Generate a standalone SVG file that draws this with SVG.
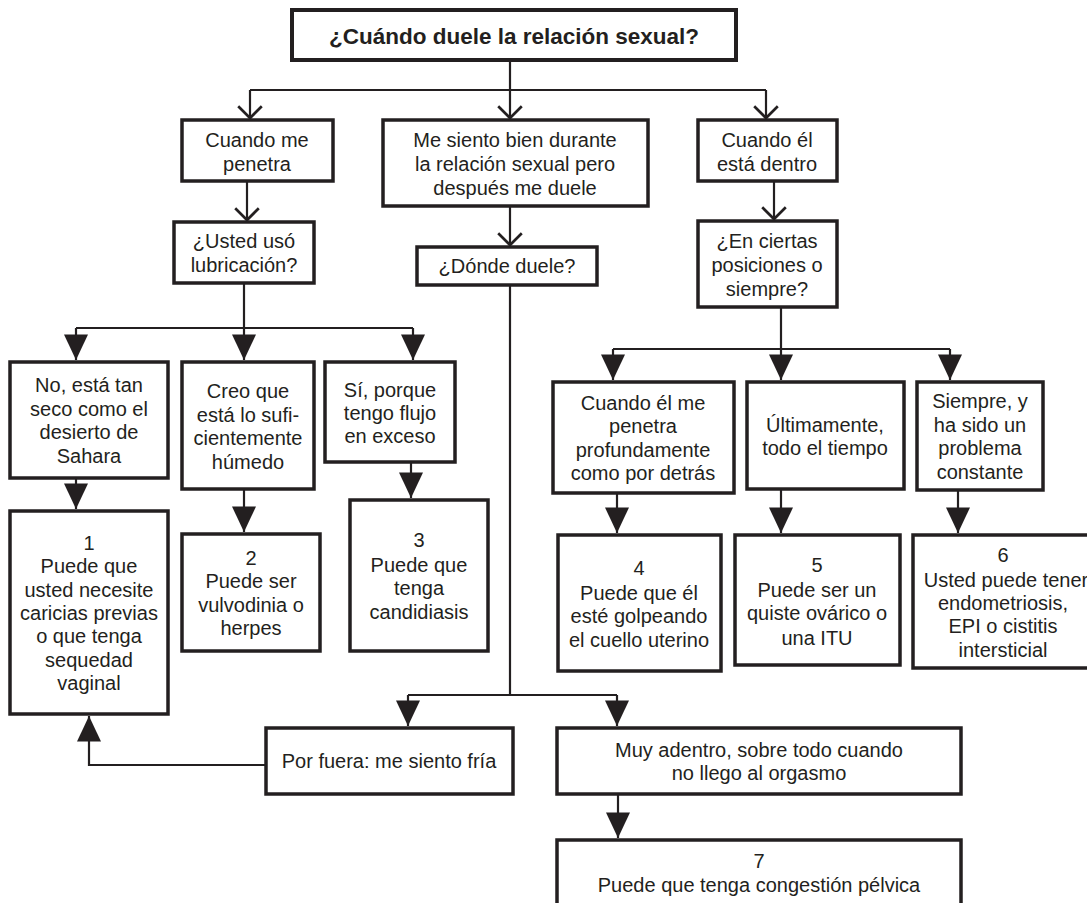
<svg xmlns="http://www.w3.org/2000/svg" width="1087" height="903" viewBox="0 0 1087 903">
<defs>
<style>
.box{fill:#fff;stroke:#231f20;stroke-width:3.5}
.tbox{fill:#fff;stroke:#231f20;stroke-width:4}
.t{font-family:"Liberation Sans",Arial,sans-serif;font-size:20px;fill:#231f20;text-anchor:middle}
.title{font-family:"Liberation Sans",Arial,sans-serif;font-size:22.5px;font-weight:bold;fill:#231f20;text-anchor:middle}
.c{fill:none;stroke:#231f20;stroke-width:2.2}
.open{marker-end:url(#openArrow)}
.fill{marker-end:url(#fillArrow)}
</style>
<marker id="openArrow" markerUnits="userSpaceOnUse" markerWidth="30" markerHeight="30" viewBox="-14 -14 16 28" refX="0" refY="0" orient="auto">
<path d="M-11,-11 L0,0 L-11,11" fill="none" stroke="#231f20" stroke-width="2.5"/>
</marker>
<marker id="fillArrow" markerUnits="userSpaceOnUse" markerWidth="30" markerHeight="30" viewBox="-18 -10 20 20" refX="0" refY="0" orient="auto">
<path d="M0,0 L-17,-8 L-17,8 Z" fill="#231f20"/>
</marker>
</defs>
<rect width="1087" height="903" fill="#fff"/>

<g id="connectors">
<path class="c" d="M510,60 V90 M250,90 H766"/>
<path class="c open" d="M250,90 V118"/>
<path class="c open" d="M510,90 V118"/>
<path class="c open" d="M766,90 V118"/>
<path class="c open" d="M247,181 V220"/>
<path class="c open" d="M510,206 V245"/>
<path class="c open" d="M774,181 V219"/>
<path class="c" d="M244,283 V328 M76,328 H413"/>
<path class="c fill" d="M76,328 V360"/>
<path class="c fill" d="M244,328 V360"/>
<path class="c fill" d="M413,328 V360"/>
<path class="c fill" d="M76,478 V509"/>
<path class="c fill" d="M244,489 V532"/>
<path class="c fill" d="M411,462 V498"/>
<path class="c" d="M510,285 V695 M408,695 H617"/>
<path class="c fill" d="M408,695 V726"/>
<path class="c fill" d="M617,695 V726"/>
<path class="c fill" d="M266,765 H89 V716"/>
<path class="c fill" d="M618,794 V838"/>
<path class="c" d="M781,307 V349 M613,349 H950"/>
<path class="c fill" d="M613,349 V380"/>
<path class="c fill" d="M781,349 V380"/>
<path class="c fill" d="M950,349 V380"/>
<path class="c fill" d="M617,493 V533"/>
<path class="c fill" d="M781,489 V533"/>
<path class="c fill" d="M958,490 V533"/>
</g>

<g id="n0">
<rect class="tbox" x="292" y="10" width="444" height="50"/>
<text class="title" x="514" y="44">¿Cuándo duele la relación sexual?</text>
</g>
<g id="n1">
<rect class="box" x="182" y="120" width="151" height="61"/>
<text class="t" x="257" y="147">Cuando me</text>
<text class="t" x="257" y="171">penetra</text>
</g>
<g id="n2">
<rect class="box" x="383" y="120" width="265" height="86"/>
<text class="t" x="515" y="147">Me siento bien durante</text>
<text class="t" x="515" y="171">la relación sexual pero</text>
<text class="t" x="515" y="195">después me duele</text>
</g>
<g id="n3">
<rect class="box" x="698" y="120" width="139" height="61"/>
<text class="t" x="767" y="147">Cuando él</text>
<text class="t" x="767" y="171">está dentro</text>
</g>
<g id="n4">
<rect class="box" x="174" y="222" width="140" height="61"/>
<text class="t" x="244" y="248">¿Usted usó</text>
<text class="t" x="244" y="272">lubricación?</text>
</g>
<g id="n5">
<rect class="box" x="417" y="247" width="180" height="38"/>
<text class="t" x="507" y="273">¿Dónde duele?</text>
</g>
<g id="n6">
<rect class="box" x="698" y="221" width="139" height="86"/>
<text class="t" x="767" y="248">¿En ciertas</text>
<text class="t" x="767" y="272">posiciones o</text>
<text class="t" x="767" y="296">siempre?</text>
</g>
<g id="n7">
<rect class="box" x="10" y="362" width="158" height="116"/>
<text class="t" x="89" y="392">No, está tan</text>
<text class="t" x="89" y="416">seco como el</text>
<text class="t" x="89" y="439">desierto de</text>
<text class="t" x="89" y="463">Sahara</text>
</g>
<g id="n8">
<rect class="box" x="182" y="362" width="132" height="127"/>
<text class="t" x="248" y="398">Creo que</text>
<text class="t" x="248" y="422">está lo sufi-</text>
<text class="t" x="248" y="445">cientemente</text>
<text class="t" x="248" y="469">húmedo</text>
</g>
<g id="n9">
<rect class="box" x="325" y="362" width="130" height="100"/>
<text class="t" x="390" y="397">Sí, porque</text>
<text class="t" x="390" y="420">tengo flujo</text>
<text class="t" x="390" y="443">en exceso</text>
</g>
<g id="n10">
<rect class="box" x="10" y="511" width="158" height="203"/>
<text class="t" x="89" y="550">1</text>
<text class="t" x="89" y="573">Puede que</text>
<text class="t" x="89" y="597">usted necesite</text>
<text class="t" x="89" y="620">caricias previas</text>
<text class="t" x="89" y="643">o que tenga</text>
<text class="t" x="89" y="667">sequedad</text>
<text class="t" x="89" y="690">vaginal</text>
</g>
<g id="n11">
<rect class="box" x="182" y="534" width="138" height="117"/>
<text class="t" x="251" y="565">2</text>
<text class="t" x="251" y="588">Puede ser</text>
<text class="t" x="251" y="612">vulvodinia o</text>
<text class="t" x="251" y="635">herpes</text>
</g>
<g id="n12">
<rect class="box" x="350" y="500" width="138" height="151"/>
<text class="t" x="419" y="547">3</text>
<text class="t" x="419" y="572">Puede que</text>
<text class="t" x="419" y="595">tenga</text>
<text class="t" x="419" y="619">candidiasis</text>
</g>
<g id="n13">
<rect class="box" x="553" y="382" width="181" height="111"/>
<text class="t" x="643" y="410">Cuando él me</text>
<text class="t" x="643" y="433">penetra</text>
<text class="t" x="643" y="457">profundamente</text>
<text class="t" x="643" y="480">como por detrás</text>
</g>
<g id="n14">
<rect class="box" x="747" y="382" width="157" height="107"/>
<text class="t" x="825" y="432">Últimamente,</text>
<text class="t" x="825" y="455">todo el tiempo</text>
</g>
<g id="n15">
<rect class="box" x="917" y="382" width="126" height="108"/>
<text class="t" x="980" y="408">Siempre, y</text>
<text class="t" x="980" y="432">ha sido un</text>
<text class="t" x="980" y="455">problema</text>
<text class="t" x="980" y="479">constante</text>
</g>
<g id="n16">
<rect class="box" x="558" y="535" width="163" height="136"/>
<text class="t" x="639" y="575">4</text>
<text class="t" x="639" y="600">Puede que él</text>
<text class="t" x="639" y="623">esté golpeando</text>
<text class="t" x="639" y="647">el cuello uterino</text>
</g>
<g id="n17">
<rect class="box" x="735" y="535" width="165" height="130"/>
<text class="t" x="817" y="572">5</text>
<text class="t" x="817" y="597">Puede ser un</text>
<text class="t" x="817" y="620">quiste ovárico o</text>
<text class="t" x="817" y="645">una ITU</text>
</g>
<g id="n18">
<rect class="box" x="913" y="535" width="182" height="133"/>
<text class="t" x="1003" y="562">6</text>
<text class="t" x="1006" y="587">Usted puede tener</text>
<text class="t" x="1003" y="610">endometriosis,</text>
<text class="t" x="1003" y="633">EPI o cistitis</text>
<text class="t" x="1003" y="657">intersticial</text>
</g>
<g id="n19">
<rect class="box" x="266" y="728" width="247" height="66"/>
<text class="t" x="389" y="768">Por fuera: me siento fría</text>
</g>
<g id="n20">
<rect class="box" x="557" y="728" width="404" height="66"/>
<text class="t" x="759" y="757">Muy adentro, sobre todo cuando</text>
<text class="t" x="759" y="780">no llego al orgasmo</text>
</g>
<g id="n21">
<rect class="box" x="557" y="840" width="404" height="70"/>
<text class="t" x="759" y="868">7</text>
<text class="t" x="759" y="892">Puede que tenga congestión pélvica</text>
</g>
</svg>
